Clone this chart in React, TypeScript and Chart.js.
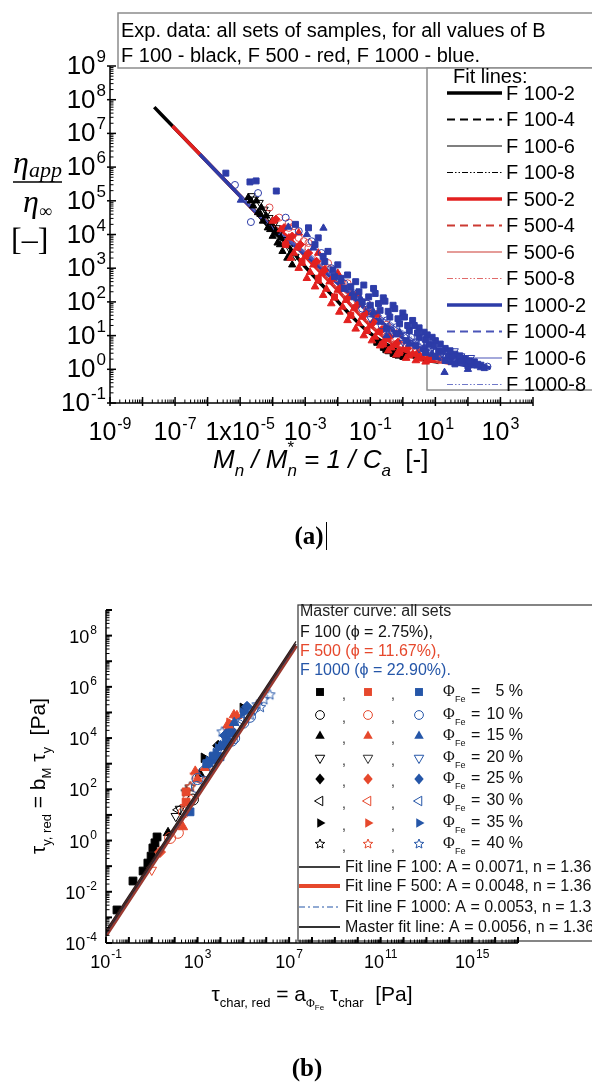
import React, { useEffect, useRef } from "react";
import { Chart, registerables } from "chart.js";

Chart.register(...registerables);

const SANS = '"Liberation Sans", Arial, sans-serif';
const SERIF = '"Liberation Serif", "Times New Roman", serif';
const BLACK = "#000000";
const RED_A = "#e3201f";
const RED_A2 = "#cc3a33";
const BLUE_A = "#2d3ca8";
const BLUE_A2 = "#4a55b8";
const RED_B = "#e6482c";
const BLUE_B = "#2556a8";
const GRAY = "#8c8c8c";

type Pt = [number, number];

// ---------------- chart (a) : tick labels ----------------
const aXTickExps = [-9, -7, -5, -3, -1, 1, 3];
const aYTickExps = [-1, 0, 1, 2, 3, 4, 5, 6, 7, 8, 9];
const aLegendLabels = [
  "F 100-2", "F 100-4", "F 100-6", "F 100-8",
  "F 500-2", "F 500-4", "F 500-6", "F 500-8",
  "F 1000-2", "F 1000-4", "F 1000-6", "F 1000-8",
];

// ---------------- chart (a) : fit lines ----------------
const aFit100_2: Pt[] = [[2.29e-8, 6.03e7], [8.32e-8, 1.66e7], [1e-6, 1.38e6], [1e-5, 1.38e5], [3.16e-5, 4.37e4], [1e-4, 1.26e4], [2.51e-4, 5.62e3], [7.94e-4, 1.41e3], [2.51e-3, 417], [7.94e-3, 132], [2.51e-2, 39.8], [7.94e-2, 13.8], [0.251, 6.31], [0.794, 3.31], [3.16, 2.04], [12.6, 1.6]];
const aFit100_4: Pt[] = [[1e-5, 1.38e5], [1e-4, 1.3e4], [2.51e-4, 5.8e3], [7.94e-4, 1.45e3], [7.94e-3, 136], [7.94e-2, 14.2], [0.794, 3.4], [12.6, 1.62]];
const aFit100_6: Pt[] = [[1e-5, 1.38e5], [1e-4, 1.34e4], [2.51e-4, 6.0e3], [7.94e-4, 1.5e3], [7.94e-3, 140], [7.94e-2, 14.6], [0.794, 3.5], [12.6, 1.64]];
const aFit100_8: Pt[] = [[1e-5, 1.38e5], [1e-4, 1.38e4], [2.51e-4, 6.2e3], [7.94e-4, 1.55e3], [7.94e-3, 145], [7.94e-2, 15], [0.794, 3.6], [12.6, 1.66]];
const aFit500_2: Pt[] = [[8.32e-8, 1.66e7], [5.75e-7, 2.4e6], [1e-5, 1.38e5], [3.16e-5, 4.37e4], [1e-4, 1.8e4], [3.16e-4, 7.94e3], [1e-3, 2.24e3], [3.16e-3, 708], [1e-2, 224], [3.16e-2, 63.1], [0.1, 20], [0.316, 7.94], [1, 3.8], [3.98, 2.24], [12.6, 1.7], [31.6, 1.5]];
const aFit500_4: Pt[] = [[1e-5, 1.38e5], [1e-4, 1.84e4], [1e-3, 2.3e3], [1e-2, 230], [0.1, 20.6], [1, 3.9], [12.6, 1.72], [31.6, 1.52]];
const aFit500_6: Pt[] = [[1e-5, 1.38e5], [1e-4, 1.88e4], [1e-3, 2.36e3], [1e-2, 236], [0.1, 21.2], [1, 4.0], [12.6, 1.74], [31.6, 1.54]];
const aFit500_8: Pt[] = [[1e-5, 1.38e5], [1e-4, 1.92e4], [1e-3, 2.42e3], [1e-2, 242], [0.1, 21.8], [1, 4.1], [12.6, 1.76], [31.6, 1.56]];
const aFit1000_2: Pt[] = [[5.75e-7, 2.4e6], [1e-5, 1.38e5], [3.16e-5, 4.47e4], [1e-4, 1.58e4], [1e-3, 2.51e3], [1e-2, 355], [0.1, 45], [1, 8.5], [3.16, 3.98], [10, 2.24], [31.6, 1.58], [100, 1.26], [501, 1.12]];
const aFit1000_4: Pt[] = [[1e-5, 1.38e5], [1e-4, 1.6e4], [1e-3, 2.8e3], [1e-2, 420], [0.1, 55], [1, 10.5], [10, 2.6], [100, 1.35], [398, 1.15]];
const aFit1000_6: Pt[] = [[1e-5, 1.38e5], [1e-4, 1.62e4], [1e-3, 3.1e3], [1e-2, 480], [0.1, 64], [1, 12.5], [10, 2.9], [100, 1.4], [398, 1.18]];
const aFit1000_8: Pt[] = [[1e-5, 1.38e5], [1e-4, 1.64e4], [1e-3, 3.4e3], [1e-2, 550], [0.1, 72], [1, 14], [10, 3.1], [100, 1.45], [398, 1.2]];

// ---------------- chart (a) : experimental points ----------------
const aF100TriUp: Pt[] = [[1.78e-5, 1.26e5], [2.51e-5, 7.08e4], [3.55e-5, 4.47e4], [5.01e-5, 2.51e4], [7.08e-5, 1.58e4], [1e-4, 8.91e3], [1.41e-4, 5.62e3], [2.0e-4, 3.16e3], [2.82e-4, 2.0e3], [3.98e-4, 1.26e3], [3.16e-5, 1e5], [4.47e-5, 6.31e4], [6.31e-5, 3.55e4], [8.91e-5, 2.24e4], [1.26e-4, 1.26e4], [1.78e-4, 7.94e3], [2.51e-4, 5.01e3], [3.55e-4, 2.82e3], [2.11e-5, 1.0e5], [4.22e-5, 3.98e4], [8.4e-5, 1.41e4], [1.68e-4, 5.01e3]];
const aF100TriDown: Pt[] = [[2.24e-5, 1.41e5], [3.98e-5, 8.91e4], [5.62e-5, 5.62e4], [7.94e-5, 3.16e4], [1.12e-4, 2.0e4], [1.58e-4, 1.12e4], [2.24e-4, 7.08e3], [3.16e-4, 3.98e3], [5.01e-4, 2.24e3], [2.82e-5, 1.12e5], [6.68e-5, 4.47e4], [1.33e-4, 1.58e4]];
const aF100Squares: Pt[] = [[0.158, 6.31], [0.251, 4.47], [0.355, 3.55], [0.501, 2.95], [0.708, 2.63], [1.0, 2.4], [0.3, 3.8], [0.6, 2.75]];

const aF500TriUp: Pt[] = [
  [3.55e-4, 2.0e3], [6.31e-4, 1.0e3], [1.12e-3, 501], [2.0e-3, 282], [3.55e-3, 158], [6.31e-3, 89.1], [1.12e-2, 50.1], [2.0e-2, 28.2], [3.55e-2, 15.8], [6.31e-2, 10], [0.112, 7.08], [0.2, 5.01], [0.355, 3.55], [0.631, 2.69], [1.26, 2.14], [2.51, 1.82], [5.01, 1.66],
  [1e-4, 2.51e4], [1.78e-4, 1.41e4], [3.16e-4, 7.94e3], [5.62e-4, 3.98e3], [1e-3, 2.24e3], [1.78e-3, 1.26e3], [3.16e-3, 708], [5.62e-3, 398], [1e-2, 224], [1.78e-2, 112], [3.16e-2, 63.1], [5.62e-2, 35.5], [0.1, 20], [0.178, 12.6], [0.316, 7.94], [0.562, 5.25], [1.0, 3.8], [2.0, 2.82], [3.98, 2.24], [7.94, 1.86],
  [2.51e-4, 5.62e3], [4.47e-4, 2.82e3], [7.94e-4, 1.41e3], [1.41e-3, 759], [2.51e-3, 417], [4.47e-3, 240], [7.94e-3, 132], [1.41e-2, 70.8], [2.51e-2, 39.8], [4.47e-2, 22.9], [7.94e-2, 13.8], [0.141, 9.12], [0.251, 6.31], [0.447, 4.37], [0.794, 3.31], [1.58, 2.51], [3.16, 2.04],
  [6.31e-4, 1.12e4], [2.51e-3, 2.82e3], [1e-2, 708], [3.98e-2, 178], [0.158, 41.7], [0.631, 11.2],
];
const aF500Diamonds: Pt[] = [[1.26e-4, 2.82e4], [2.24e-4, 1.58e4], [3.98e-4, 8.91e3], [7.08e-4, 5.01e3], [1.26e-3, 2.82e3], [2.24e-3, 1.58e3], [3.98e-3, 891], [7.08e-3, 501], [1.26e-2, 263], [2.24e-2, 141], [3.98e-2, 79.4], [7.08e-2, 44.7], [0.126, 25.1], [0.224, 14.8], [0.398, 9.33], [0.708, 6.31], [1.41, 4.17], [2.82, 2.95], [6.31, 2.14]];
const aF500Circles: Pt[] = [[7.94e-5, 6.31e4], [1.58e-4, 3.16e4], [3.16e-4, 1.58e4], [6.31e-4, 7.94e3], [1.26e-3, 3.98e3], [2.51e-3, 2.0e3], [5.01e-3, 1.0e3], [1e-2, 501], [2.0e-2, 224], [3.98e-2, 112], [7.94e-2, 56.2], [0.158, 28.2], [0.316, 14.1], [0.631, 7.94], [1.26, 5.01], [2.51, 3.16], [6.31, 2.24], [12.6, 1.91], [4.47e-4, 1.78e4], [8.91e-4, 6.31e3], [3.55e-3, 1.41e3], [1.41e-2, 355],
  [3.16e-4, 2.24e4], [1.26e-3, 5.62e3], [5.01e-3, 1.41e3], [2e-2, 355], [7.94e-2, 89.1], [0.316, 20.9], [1.26, 6.61], [2.51, 4.17]];
const aF500Squares: Pt[] = [[2.51e-4, 5.01e3], [7.94e-4, 1.58e3], [2.51e-3, 501], [7.94e-3, 141], [2.51e-2, 39.8], [7.94e-2, 14.1], [0.251, 5.62], [0.794, 3.16]];

const aF1000Squares: Pt[] = [[3.63e-6, 6.61e5], [2.0e-5, 3.63e5], [3.09e-5, 3.89e5], [1.29e-4, 1.95e5],
  [1.26e-3, 1.58e4], [2.51e-3, 7.94e3], [5.01e-3, 3.16e3], [1e-2, 1.26e3], [2e-2, 631], [3.55e-2, 398], [6.31e-2, 316], [0.126, 251], [0.251, 132], [0.501, 79.4], [1.0, 46.8], [2.0, 28.2], [3.16, 17], [5.62, 10.5], [10, 7.08], [20, 4.17], [39.8, 2.82], [79.4, 2.09], [158, 1.66],
  [0.1, 79.4], [0.2, 56.2], [0.398, 35.5], [0.794, 22.4], [1.58, 14.1], [3.16, 8.91], [6.31, 5.62], [12.6, 3.55], [25.1, 2.51], [50.1, 1.91], [100, 1.51], [251, 1.32],
  [0.316, 15.8], [0.631, 11.2], [1.26, 7.08], [2.51, 5.01], [5.01, 3.16], [10, 2.4], [20, 1.82], [39.8, 1.45], [100, 1.26], [316, 1.12],
  [3.98e-3, 1.58e3], [7.94e-3, 562], [1.58e-2, 251], [3.16e-2, 141], [5.62e-2, 100],
  [4.47e-2, 200], [8.91e-2, 141], [0.178, 89.1], [0.355, 52.5], [0.708, 31.6], [1.41, 20], [2.82, 12], [5.01, 7.59], [8.91, 5.01], [15.8, 3.31], [31.6, 2.4], [63.1, 1.82], [126, 1.51],
  [5.01e-4, 2e4], [2e-3, 5.01e3], [3.55e-3, 2.24e3], [7.08e-3, 891], [1.26e-2, 501], [2.51e-2, 282],
  [0.141, 178], [0.282, 105], [0.562, 63.1], [1.12, 35.5], [2.24, 20], [4.47, 12.6], [7.94, 8.91], [14.1, 5.62], [28.2, 3.55], [56.2, 2.51], [112, 1.78], [200, 1.41]];
const aF1000Circles: Pt[] = [[6.92e-6, 2.95e5], [3.55e-5, 1.7e5], [2.14e-5, 2.34e4], [2.51e-4, 3.16e4], [6.31e-4, 1.26e4], [1.58e-3, 6.31e3], [3.16e-3, 2.82e3], [6.31e-3, 1e3], [1.58e-2, 355], [3.98e-2, 178], [7.94e-2, 89.1], [0.158, 39.8], [0.316, 28.2], [0.631, 17.8], [1.26, 10], [2.51, 6.31], [5.01, 4.17], [10, 3.16], [25.1, 2.24], [63.1, 1.78], [158, 1.41], [398, 1.2], [5.62e-2, 63.1], [0.112, 44.7], [0.224, 20], [0.447, 14.1], [1.78, 8.91], [3.55, 5.62], [7.08, 3.98], [14.1, 2.82], [35.5, 2.0]];
const aF1000TriUp: Pt[] = [[1.05e-5, 1.05e5], [3.02e-4, 1.66e4], [3.63e-3, 1.55e4], [1.78e-3, 3.98e3], [1.26e-2, 398], [5.01e-2, 126], [0.126, 50.1], [0.316, 10], [1.58, 5.62], [7.94, 2.82], [19.1, 0.813], [31.6, 1.58], [100, 1.0], [251, 1.12], [1.12e-3, 1.0e4], [2.82e-2, 178], [0.2, 25.1], [0.794, 12.6], [4.47, 4.47]];
const aF1000TriDown: Pt[] = [[2.51e-2, 200], [0.1, 31.6], [0.501, 11.2], [3.16, 3.98], [15.8, 2.82], [25.1, 3.02], [39.8, 3.55], [126, 2.24], [1.0, 6.31], [7.94, 4.47], [63.1, 2.51]];

// ---------------- chart (b) : tick labels & legend ----------------
const bXTickExps = [-1, 3, 7, 11, 15];
const bYTickExps = [-4, -2, 0, 2, 4, 6, 8];
const bPhiLabels = ["5 %", "10 %", "15 %", "20 %", "25 %", "30 %", "35 %", "40 %"];
const bFitLabels = [
  "Fit line F 100: A = 0.0071, n = 1.36",
  "Fit line F 500: A = 0.0048, n = 1.36",
  "Fit line F 1000: A = 0.0053, n = 1.36",
  "Master fit line: A = 0.0056, n = 1.36",
];

// ---------------- chart (b) : fit lines ----------------
const bFitF100: Pt[] = [[0.1, 3.10e-4], [2e7, 6.0e7]];
const bFitF500: Pt[] = [[0.1, 2.09e-4], [2e7, 4.08e7]];
const bFitF1000: Pt[] = [[0.1, 2.31e-4], [2e7, 4.5e7]];
const bFitMaster: Pt[] = [[0.1, 2.44e-4], [2e7, 4.75e7]];

// ---------------- chart (b) : experimental points ----------------
const bF100Squares: Pt[] = [[0.302, 1.95e-3], [1.51, 2.63e-2], [4.17, 6.46e-2], [6.76, 0.132], [9.33, 0.245], [11.2, 0.513], [13.8, 0.813], [17, 1.38]];
const bF100TriUp: Pt[] = [[51.3, 2.0], [1259, 398]];
const bF100TriDown: Pt[] = [[170, 17.0], [112, 8.91]];
const bF100Stars: Pt[] = [[468, 123], [316, 79.4]];
const bF100TriRight: Pt[] = [[1905, 1698], [9.55e4, 1.51e5]];
const bF100Diamonds: Pt[] = [[7943, 5012]];
const bF100Circles: Pt[] = [[631, 39.8]];
const bF100TriLeft: Pt[] = [[141, 15.8]];
const bF500TriUp: Pt[] = [[229, 3.39], [2089, 692], [5.25e4, 7.41e4], [3.89e4, 7.94e4], [1000, 251], [2e4, 3.16e4], [794, 501]];
const bF500Diamonds: Pt[] = [[22.9, 0.355], [2.51e4, 2.0e4]];
const bF500Circles: Pt[] = [[138, 2.0], [63.1, 1.26], [3981, 1000], [251, 12.6], [398, 39.8]];
const bF500Stars: Pt[] = [[776, 363], [501, 126]];
const bF500TriDown: Pt[] = [[282, 20], [10, 7.08e-2]];
const bF500TriRight: Pt[] = [[2.51e4, 3.98e4]];
const bF500Squares: Pt[] = [[316, 31.6], [316, 79.4], [2.51e4, 2.51e4]];
const bF500TriLeft: Pt[] = [[1585, 200]];
const bF1000Squares: Pt[] = [[468, 13.2], [3162, 1072], [9550, 1862], [5623, 1413], [2e4, 7079], [3.16e4, 1.58e4], [2512, 1000], [5012, 1995], [1.26e4, 5012], [2.51e4, 1.58e4]];
const bF1000TriRight: Pt[] = [[4266, 1698], [6310, 2512], [1e5, 1e5], [3162, 1259], [7943, 3981], [1.58e4, 1e4]];
const bF1000Stars: Pt[] = [[1.17e4, 1.74e4], [3.98e5, 2e5], [7.94e5, 3.16e5], [1.45e6, 4.9e5], [2e5, 7.94e4], [5.62e5, 1.58e5]];
const bF1000Diamonds: Pt[] = [[1.45e5, 1.66e5], [1.58e4, 1.26e4]];
const bF1000Circles: Pt[] = [[1.95e5, 6.76e4], [3.16e4, 7943], [1995, 501], [933, 123], [6.31e4, 3.16e4], [1e4, 2512], [3.98e4, 1e4], [1e5, 3.98e4], [1000, 251]];
const bF1000TriDown: Pt[] = [[3.16e5, 1.26e5], [7943, 3162]];
const bF1000TriUp: Pt[] = [[1e4, 5012], [3.98e4, 3.98e4]];
const bF1000TriLeft: Pt[] = [[7.94e4, 5.01e4]];

// ---------------- helpers ----------------
const toXY = (arr: Pt[]) => arr.map(([x, y]) => ({ x, y }));

type MK = { kind: string; rot: number; filled: boolean };
const MARKERS: MK[] = [
  { kind: "rect", rot: 0, filled: true },
  { kind: "circle", rot: 0, filled: false },
  { kind: "triangle", rot: 0, filled: true },
  { kind: "triangle", rot: 180, filled: false },
  { kind: "rectRot", rot: 0, filled: true },
  { kind: "triangle", rot: 270, filled: false },
  { kind: "triangle", rot: 90, filled: true },
  { kind: "star", rot: 0, filled: false },
];

function starPath(g: CanvasRenderingContext2D, cx: number, cy: number, r: number) {
  g.beginPath();
  for (let i = 0; i < 10; i++) {
    const a = -Math.PI / 2 + (i * Math.PI) / 5;
    const rr = i % 2 === 0 ? r : r * 0.45;
    const px = cx + rr * Math.cos(a), py = cy + rr * Math.sin(a);
    if (i === 0) g.moveTo(px, py); else g.lineTo(px, py);
  }
  g.closePath();
}
function makeStar(color: string, r: number) {
  const s = Math.ceil(2 * r + 4);
  const c = document.createElement("canvas");
  c.width = s; c.height = s;
  const g = c.getContext("2d")!;
  starPath(g, s / 2, s / 2, r);
  g.strokeStyle = color; g.lineWidth = 1; g.stroke();
  return c;
}

function drawMarker(ctx: CanvasRenderingContext2D, m: MK, color: string, x: number, y: number, r: number) {
  ctx.save();
  if (m.kind === "star") {
    starPath(ctx, x, y, r);
  } else {
    ctx.beginPath();
    if (m.kind === "rect") { const s = r * 0.72; ctx.rect(x - s, y - s, 2 * s, 2 * s); }
    else if (m.kind === "circle") ctx.arc(x, y, r * 0.8, 0, Math.PI * 2);
    else if (m.kind === "rectRot") { ctx.moveTo(x, y - r); ctx.lineTo(x + r * 0.85, y); ctx.lineTo(x, y + r); ctx.lineTo(x - r * 0.85, y); }
    else if (m.kind === "triangle") {
      for (let i = 0; i < 3; i++) {
        const a = ((m.rot - 90 + 120 * i) * Math.PI) / 180;
        const px = x + r * Math.cos(a), py = y + r * Math.sin(a);
        if (i === 0) ctx.moveTo(px, py); else ctx.lineTo(px, py);
      }
    }
    ctx.closePath();
  }
  if (m.filled) { ctx.fillStyle = color; ctx.fill(); }
  else { ctx.strokeStyle = color; ctx.lineWidth = 1; ctx.stroke(); }
  ctx.restore();
}

function seg(ctx: CanvasRenderingContext2D, x1: number, y1: number, x2: number, y2: number) {
  ctx.beginPath(); ctx.moveTo(x1, y1); ctx.lineTo(x2, y2); ctx.stroke();
}

function drawPow(ctx: CanvasRenderingContext2D, base: string, exp: string, x: number, yb: number, align: string, fb: number, fe: number, rise: number) {
  ctx.font = `${fb}px ${SANS}`; const wb = ctx.measureText(base).width;
  ctx.font = `${fe}px ${SANS}`; const we = ctx.measureText(exp).width;
  const tot = wb + we + 1;
  const sx = align === "center" ? x - tot / 2 : align === "right" ? x - tot : x;
  ctx.textAlign = "left"; ctx.textBaseline = "alphabetic"; ctx.fillStyle = "#000";
  ctx.font = `${fb}px ${SANS}`; ctx.fillText(base, sx, yb);
  ctx.font = `${fe}px ${SANS}`; ctx.fillText(exp, sx + wb + 1, yb - rise);
}

type Part = { t: string; f: string; dy?: number; over?: boolean; c?: string };
function drawRich(ctx: CanvasRenderingContext2D, parts: Part[], x: number, y: number, align: string) {
  const xs: number[] = []; let w = 0; let last = 0;
  for (const p of parts) {
    ctx.font = p.f; const pw = ctx.measureText(p.t).width;
    if (p.over) xs.push(last); else { xs.push(w); last = w; w += pw; }
  }
  const sx = align === "center" ? x - w / 2 : align === "right" ? x - w : x;
  ctx.textAlign = "left"; ctx.textBaseline = "alphabetic";
  parts.forEach((p, i) => { ctx.font = p.f; ctx.fillStyle = p.c || "#000"; ctx.fillText(p.t, sx + xs[i], y + (p.dy || 0)); });
  return w;
}

function logTicks(ctx: CanvasRenderingContext2D, scale: any, k0: number, k1: number, horizontal: boolean, axisPos: number, majIn: number, majOut: number, minIn: number, majW: number) {
  for (let k = k0; k <= k1; k++) {
    for (let m = 1; m <= 9; m++) {
      if (k === k1 && m > 1) break;
      const v = m * Math.pow(10, k);
      const p = scale.getPixelForValue(v);
      if (m === 1) {
        ctx.lineWidth = majW;
        if (horizontal) seg(ctx, p, axisPos - majIn, p, axisPos + majOut); else seg(ctx, axisPos - majOut, p, axisPos + majIn, p);
      } else {
        ctx.lineWidth = 1;
        if (horizontal) seg(ctx, p, axisPos - minIn, p, axisPos); else seg(ctx, axisPos, p, axisPos + minIn, p);
      }
    }
  }
}

// line style for legend/fit lines of chart (a)
const aWidths = [3.5, 2, 1.2, 1];
const aDashes = [[], [8, 5], [], [6, 2, 1.5, 2, 1.5, 2]];
const aColor = (i: number) => {
  const fam = Math.floor(i / 4), v = i % 4;
  if (fam === 0) return BLACK;
  if (fam === 1) return v === 0 ? RED_A : v === 3 ? "#e06a6a" : RED_A2;
  return v === 0 ? BLUE_A : v === 3 ? "#6f78c8" : BLUE_A2;
};

// ---------------- plugins ----------------
const pluginA = {
  id: "pluginA",
  beforeDatasetsDraw(chart: any) {
    const ctx: CanvasRenderingContext2D = chart.ctx;
    ctx.save();
    ctx.fillStyle = "#fff"; ctx.strokeStyle = GRAY; ctx.lineWidth = 1.5;
    ctx.fillRect(118, 13, 520, 55); ctx.strokeRect(118, 13, 520, 55);
    ctx.fillRect(427, 68, 220, 322); ctx.strokeRect(427, 68, 220, 322);
    ctx.fillStyle = "#000"; ctx.textBaseline = "middle"; ctx.textAlign = "left";
    ctx.font = `20px ${SANS}`;
    ctx.fillText("Exp. data: all sets of samples, for all values of B", 121, 31);
    ctx.fillText("F 100 - black, F 500 - red, F 1000 - blue.", 121, 56);
    ctx.fillText("Fit lines:", 453, 77);
    aLegendLabels.forEach((lab, i) => {
      const yy = 93 + 26.5 * i;
      ctx.strokeStyle = aColor(i); ctx.lineWidth = aWidths[i % 4]; ctx.setLineDash(aDashes[i % 4]);
      seg(ctx, 447, yy, 502, yy);
      ctx.setLineDash([]);
      ctx.fillStyle = "#000"; ctx.font = `20px ${SANS}`;
      ctx.fillText(lab, 506, yy + 1);
    });
    ctx.restore();
  },
  afterDraw(chart: any) {
    const ctx: CanvasRenderingContext2D = chart.ctx;
    const xs = chart.scales.x, ys = chart.scales.y;
    const L = xs.getPixelForValue(1e-9), R = xs.getPixelForValue(1e4);
    const T = ys.getPixelForValue(1e9), B = ys.getPixelForValue(0.1);
    ctx.save();
    ctx.strokeStyle = "#000"; ctx.lineWidth = 1.5;
    seg(ctx, L, T, L, B); seg(ctx, L, B, R, B);
    logTicks(ctx, xs, -9, 4, true, B, 6, 3, 3.5, 1.5);
    logTicks(ctx, ys, -1, 9, false, L, 6, 3, 3.5, 1.5);
    aXTickExps.forEach((e) => drawPow(ctx, e === -5 ? "1x10" : "10", String(e), xs.getPixelForValue(Math.pow(10, e)), 440, "center", 25, 16, 11));
    aYTickExps.forEach((e) => drawPow(ctx, "10", String(e), 106, ys.getPixelForValue(Math.pow(10, e)) + 8, "right", 26, 17, 12));
    // y title
    ctx.fillStyle = "#000";
    drawRich(ctx, [{ t: "η", f: `italic 32px ${SERIF}` }, { t: "app", f: `italic 22px ${SERIF}`, dy: 4 }], 13, 173, "left");
    ctx.lineWidth = 1.5; seg(ctx, 13, 182, 62, 182);
    drawRich(ctx, [{ t: "η", f: `italic 32px ${SERIF}` }, { t: "∞", f: `18px ${SERIF}`, dy: 5 }], 23, 212, "left");
    ctx.font = `32px ${SERIF}`; ctx.textBaseline = "alphabetic"; ctx.fillText("[–]", 11, 250);
    // x title
    const I = `italic 26px ${SANS}`, S = `italic 17px ${SANS}`;
    drawRich(ctx, [
      { t: "M", f: I }, { t: "n", f: S, dy: 8 }, { t: " / M", f: I }, { t: "n", f: S, dy: 8 }, { t: "*", f: `17px ${SANS}`, dy: -15, over: true },
      { t: " = 1 / C", f: I }, { t: "a", f: S, dy: 8 }, { t: "  [-]", f: `26px ${SANS}` },
    ], 213, 468, "left");
    // panel label
    ctx.font = `bold 25px ${SERIF}`; ctx.textAlign = "center"; ctx.fillText("(a)", 309, 544);
    ctx.lineWidth = 1; seg(ctx, 326.5, 522, 326.5, 550);
    ctx.restore();
  },
};

const OB = 580;
const pluginB = {
  id: "pluginB",
  afterDatasetsDraw(chart: any) {
    const ctx: CanvasRenderingContext2D = chart.ctx;
    const xs = chart.scales.x, ys = chart.scales.y;
    const L = xs.getPixelForValue(0.1), R = xs.getPixelForValue(1e17);
    const T = ys.getPixelForValue(1e9), B = ys.getPixelForValue(1e-4);
    ctx.save();
    // legend box
    const bx = 298, by = 605 - OB, bb = 941 - OB;
    ctx.fillStyle = "#fff"; ctx.fillRect(bx, by, 400, bb - by);
    ctx.strokeStyle = "#444"; ctx.lineWidth = 1.3;
    ctx.strokeRect(bx, by, 400, bb - by);
    ctx.textBaseline = "middle"; ctx.textAlign = "left";
    ctx.font = `16px ${SANS}`;
    ctx.fillStyle = "#222"; ctx.fillText("Master curve: all sets", 300, 612 - OB);
    ctx.fillStyle = "#111"; ctx.fillText("F 100 (ϕ = 2.75%),", 300, 633 - OB);
    ctx.fillStyle = RED_B; ctx.fillText("F 500 (ϕ = 11.67%),", 300, 652 - OB);
    ctx.fillStyle = BLUE_B; ctx.fillText("F 1000 (ϕ = 22.90%).", 300, 671 - OB);
    const rowY = [692, 715, 736, 758, 779, 801, 823, 844];
    MARKERS.forEach((m, i) => {
      const yy = rowY[i] - OB;
      const rr = m.kind === "star" ? 5 : 5.5;
      drawMarker(ctx, m, "#000", 320, yy, rr);
      drawMarker(ctx, m, i === 3 ? "#333" : RED_B, 368, yy, rr);
      drawMarker(ctx, m, BLUE_B, 419, yy, rr);
      ctx.fillStyle = "#333"; ctx.font = `14px ${SANS}`; ctx.textAlign = "left";
      ctx.fillText(",", 342, yy + 3); ctx.fillText(",", 391, yy + 3);
      ctx.fillStyle = "#111";
      ctx.font = `16px ${SERIF}`; ctx.fillText("Φ", 443, yy);
      ctx.font = `9px ${SANS}`; ctx.fillText("Fe", 455, yy + 8);
      ctx.font = `16px ${SANS}`; ctx.fillText("=", 471, yy);
      ctx.textAlign = "right"; ctx.fillText(bPhiLabels[i], 523, yy);
      ctx.textAlign = "left";
    });
    const fitY = [867, 886, 907, 927];
    const fitCol = ["#000", RED_B, BLUE_B, "#333"];
    const fitW = [1.5, 4, 1.2, 2];
    const fitDash = [[], [], [6, 3, 2, 3], []];
    fitY.forEach((fy, i) => {
      const yy = fy - OB;
      ctx.strokeStyle = fitCol[i]; ctx.lineWidth = fitW[i]; ctx.setLineDash(fitDash[i]);
      seg(ctx, 299, yy, 340, yy);
      ctx.setLineDash([]);
      ctx.fillStyle = "#111"; ctx.font = `16px ${SANS}`; ctx.fillText(bFitLabels[i], 345, yy + 1);
    });
    // axes
    ctx.strokeStyle = "#000"; ctx.lineWidth = 1.5;
    seg(ctx, L, T, L, B); seg(ctx, L, B, R, B);
    logTicks(ctx, xs, -1, 17, true, B, 6, 0, 3.5, 2);
    logTicks(ctx, ys, -4, 9, false, L, 6, 0, 3.5, 2);
    bXTickExps.forEach((e) => drawPow(ctx, "10", String(e), xs.getPixelForValue(Math.pow(10, e)), 968 - OB, "center", 18, 12, 10));
    bYTickExps.forEach((e) => drawPow(ctx, "10", String(e), 97, ys.getPixelForValue(Math.pow(10, e)) + 7, "right", 18, 12, 9));
    // x title
    const F = `21px ${SANS}`, Sb = `13px ${SANS}`;
    drawRich(ctx, [
      { t: "τ", f: F }, { t: "char, red", f: Sb, dy: 6 }, { t: " = a", f: F }, { t: "Φ", f: `12px ${SERIF}`, dy: 6 }, { t: "Fe", f: `8px ${SANS}`, dy: 9 },
      { t: " τ", f: F }, { t: "char", f: Sb, dy: 6 }, { t: "  [Pa]", f: F },
    ], 312, 1001 - OB, "center");
    // y title (rotated)
    ctx.save();
    ctx.translate(45, 776 - OB); ctx.rotate(-Math.PI / 2);
    drawRich(ctx, [
      { t: "τ", f: F }, { t: "y, red", f: Sb, dy: 6 }, { t: " = b", f: F }, { t: "M", f: Sb, dy: 6 },
      { t: " τ", f: F }, { t: "y", f: Sb, dy: 6 }, { t: "  [Pa]", f: F },
    ], 0, 0, "center");
    ctx.restore();
    ctx.fillStyle = "#000"; ctx.font = `bold 25px ${SERIF}`; ctx.textAlign = "center"; ctx.textBaseline = "alphabetic";
    ctx.fillText("(b)", 307, 1076 - OB);
    ctx.restore();
  },
};

// ---------------- dataset builders ----------------
function lineDS(data: Pt[], color: string, width: number, dash: number[], order: number, tension = 0.35) {
  return {
    data: toXY(data), showLine: true, borderColor: color, borderWidth: width, borderDash: dash,
    pointRadius: 0, pointHoverRadius: 0, fill: false, tension, cubicInterpolationMode: "monotone", order,
  };
}
function markDS(data: Pt[], color: string, m: MK, radius: number, order: number, star?: any) {
  return {
    data: toXY(data), showLine: false,
    pointStyle: m.kind === "star" ? star : m.kind, pointRotation: m.rot, pointRadius: radius, pointHoverRadius: radius,
    backgroundColor: m.filled ? color : "rgba(255,255,255,0)", borderColor: color, borderWidth: 1, order,
  };
}

function configA(): any {
  const fits = [aFit100_2, aFit100_4, aFit100_6, aFit100_8, aFit500_2, aFit500_4, aFit500_6, aFit500_8, aFit1000_2, aFit1000_4, aFit1000_6, aFit1000_8];
  const lineSets = fits.map((f, i) => lineDS(f, aColor(i), aWidths[i % 4], aDashes[i % 4], 40 - i));
  const datasets = [
    ...lineSets,
    markDS(aF100TriUp, BLACK, MARKERS[2], 4.2, 9),
    markDS(aF100TriDown, BLACK, MARKERS[3], 4.2, 9),
    markDS(aF100Squares, BLACK, MARKERS[0], 4.2, 9),
    markDS(aF500TriUp, RED_A, MARKERS[2], 4.4, 7),
    markDS(aF500Diamonds, RED_A, MARKERS[4], 4.2, 7),
    markDS(aF500Squares, RED_A, MARKERS[0], 4.2, 7),
    markDS(aF500Circles, "#e05050", MARKERS[1], 3.6, 7),
    markDS(aF1000Circles, BLUE_A, MARKERS[1], 3.5, 5),
    markDS(aF1000TriDown, BLUE_A, MARKERS[3], 4.0, 5),
    markDS(aF1000TriUp, BLUE_A, MARKERS[2], 4.2, 5),
    markDS(aF1000Squares, BLUE_A, MARKERS[0], 4.2, 4),
  ];
  return {
    type: "scatter",
    data: { datasets },
    options: {
      responsive: false, animation: false, events: [],
      layout: { padding: { left: 110, right: 592 - 533, top: 66, bottom: 570 - 403 } },
      scales: {
        x: { type: "logarithmic", min: 1e-9, max: 1e4, display: false },
        y: { type: "logarithmic", min: 0.1, max: 1e9, display: false },
      },
      plugins: { legend: { display: false }, tooltip: { enabled: false } },
    },
    plugins: [pluginA],
  };
}

function configB(): any {
  const sBlack = makeStar("#000", 5.5), sRed = makeStar(RED_B, 5.5), sBlue = makeStar(BLUE_B, 5.5);
  const R = 5.5;
  const datasets = [
    lineDS(bFitMaster, "#3a2626", 1.6, [], 1, 0),
    lineDS(bFitF1000, BLUE_B, 1.2, [6, 3, 2, 3], 2, 0),
    lineDS(bFitF100, "#2a1a1a", 1.2, [], 3, 0),
    lineDS(bFitF500, "#9a3a30", 4.5, [], 4, 0),
    markDS(bF100Squares, "#000", MARKERS[0], R, 10),
    markDS(bF100Circles, "#000", MARKERS[1], R, 10),
    markDS(bF100TriUp, "#000", MARKERS[2], R, 10),
    markDS(bF100TriDown, "#000", MARKERS[3], R, 10),
    markDS(bF100Diamonds, "#000", MARKERS[4], R, 10),
    markDS(bF100TriLeft, "#000", MARKERS[5], R, 10),
    markDS(bF100TriRight, "#000", MARKERS[6], R, 10),
    markDS(bF100Stars, "#000", MARKERS[7], R, 10, sBlack),
    markDS(bF500Squares, RED_B, MARKERS[0], R, 9),
    markDS(bF500Circles, RED_B, MARKERS[1], R, 9),
    markDS(bF500TriUp, RED_B, MARKERS[2], R, 9),
    markDS(bF500TriDown, RED_B, MARKERS[3], R, 9),
    markDS(bF500Diamonds, RED_B, MARKERS[4], R, 9),
    markDS(bF500TriLeft, RED_B, MARKERS[5], R, 9),
    markDS(bF500TriRight, RED_B, MARKERS[6], R, 9),
    markDS(bF500Stars, RED_B, MARKERS[7], R, 9, sRed),
    markDS(bF1000Squares, BLUE_B, MARKERS[0], R, 8),
    markDS(bF1000Circles, BLUE_B, MARKERS[1], R, 8),
    markDS(bF1000TriUp, BLUE_B, MARKERS[2], R, 8),
    markDS(bF1000TriDown, BLUE_B, MARKERS[3], R, 8),
    markDS(bF1000Diamonds, BLUE_B, MARKERS[4], R, 8),
    markDS(bF1000TriLeft, BLUE_B, MARKERS[5], R, 8),
    markDS(bF1000TriRight, BLUE_B, MARKERS[6], R, 8),
    markDS(bF1000Stars, BLUE_B, MARKERS[7], R, 8, sBlue),
  ];
  return {
    type: "scatter",
    data: { datasets },
    options: {
      responsive: false, animation: false, events: [],
      layout: { padding: { left: 106, right: 592 - 518, top: 610 - OB, bottom: 503 - (943 - OB) } },
      scales: {
        x: { type: "logarithmic", min: 0.1, max: 1e17, display: false },
        y: { type: "logarithmic", min: 1e-4, max: 1e9, display: false },
      },
      plugins: { legend: { display: false }, tooltip: { enabled: false } },
    },
    plugins: [pluginB],
  };
}

export default function App() {
  const refA = useRef<HTMLCanvasElement>(null);
  const refB = useRef<HTMLCanvasElement>(null);
  useEffect(() => {
    const ca = new Chart(refA.current as HTMLCanvasElement, configA());
    const cb = new Chart(refB.current as HTMLCanvasElement, configB());
    return () => { ca.destroy(); cb.destroy(); };
  }, []);
  return (
    <div style={{ position: "absolute", left: 0, top: 0, width: 592, height: 1083, background: "#fff", overflow: "hidden" }}>
      <canvas ref={refA} width={592} height={570} style={{ position: "absolute", left: 0, top: 0 }} />
      <canvas ref={refB} width={592} height={503} style={{ position: "absolute", left: 0, top: OB }} />
    </div>
  );
}
